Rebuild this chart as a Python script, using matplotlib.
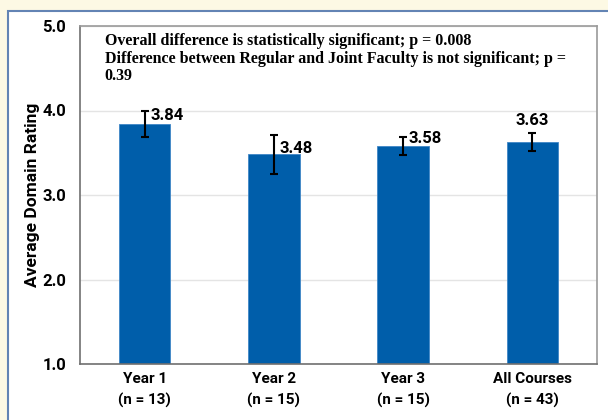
import matplotlib.pyplot as plt
from matplotlib.patches import Rectangle

categories = ['Year 1\n(n = 13)', 'Year 2\n(n = 15)', 'Year 3\n(n = 15)',
              'All Courses\n(n = 43)']
means = [3.84, 3.48, 3.58, 3.63]
errors = [0.15, 0.23, 0.11, 0.105]
value_labels = ['3.84', '3.48', '3.58', '3.63']
# offset of each value label from its bar's error-bar top, in points
label_offsets = [(4, -3), (4, -10), (4, -1), (0, 9)]
label_align = ['left', 'left', 'left', 'center']
y_ticks = [1.0, 2.0, 3.0, 4.0, 5.0]

note = ('Overall difference is statistically significant; p = 0.008\n'
        'Difference between Regular and Joint Faculty is not significant; p =\n'
        '0.39')

sans = ['Roboto', 'DejaVu Sans']


def main():
    fig = plt.figure(figsize=(6.08, 4.2), dpi=100)
    fig.patch.set_facecolor('#fdf9e4')

    # white panel with blue border behind the chart
    panel = Rectangle((8 / 608, -0.1), 1.1, 1 - 11 / 420 + 0.1,
                      transform=fig.transFigure, facecolor='white',
                      edgecolor='#6384b4', linewidth=1.5, zorder=-10)
    fig.add_artist(panel)

    ax = fig.add_axes([80 / 608, 1 - 364 / 420, 517 / 608, 338 / 420])
    ax.set_facecolor('white')

    x = list(range(len(categories)))
    ax.bar(x, [m - 1.0 for m in means], bottom=1.0, width=0.4,
           color='#005eaa', edgecolor='#3f86c6', linewidth=0.6, zorder=2)
    ax.errorbar(x, means, yerr=errors, fmt='none', ecolor='black',
                elinewidth=1.5, capsize=3, capthick=1.5, zorder=3)

    for i in x:
        ax.annotate(value_labels[i], (x[i], means[i] + errors[i]),
                    xytext=label_offsets[i], textcoords='offset points',
                    ha=label_align[i], va='center', fontsize=12,
                    fontweight='bold', family=sans, zorder=4)

    ax.set_xlim(-0.5, 3.5)
    ax.set_ylim(1.0, 5.0)
    ax.set_yticks(y_ticks)
    ax.set_yticklabels(['%.1f' % t for t in y_ticks], fontsize=12,
                       fontweight='bold', family=sans)
    ax.set_xticks(x)
    ax.set_xticklabels(categories, fontsize=11, fontweight='bold',
                       family=sans, linespacing=1.6)
    ax.tick_params(axis='x', length=0, pad=6)
    ax.tick_params(axis='y', length=0, pad=10)

    ax.grid(axis='y', color='#e4e4e4', linewidth=1, zorder=1)
    ax.set_axisbelow(True)
    for side in ['top', 'right']:
        ax.spines[side].set_color('#9a9a9a')
    for side in ['left', 'bottom']:
        ax.spines[side].set_color('#707070')
    for s in ax.spines.values():
        s.set_linewidth(1.2)

    ax.set_ylabel('Average Domain Rating', fontsize=12.5, fontweight='bold',
                  family=sans)
    ax.yaxis.set_label_coords(-0.078, 0.5)

    ax.text(0.048, 0.98, note, transform=ax.transAxes, ha='left', va='top',
            fontsize=11.5, fontweight='bold', family='Liberation Serif',
            linespacing=1.15)

    fig.savefig('out.png', dpi=100, facecolor=fig.get_facecolor())


if __name__ == '__main__':
    main()
